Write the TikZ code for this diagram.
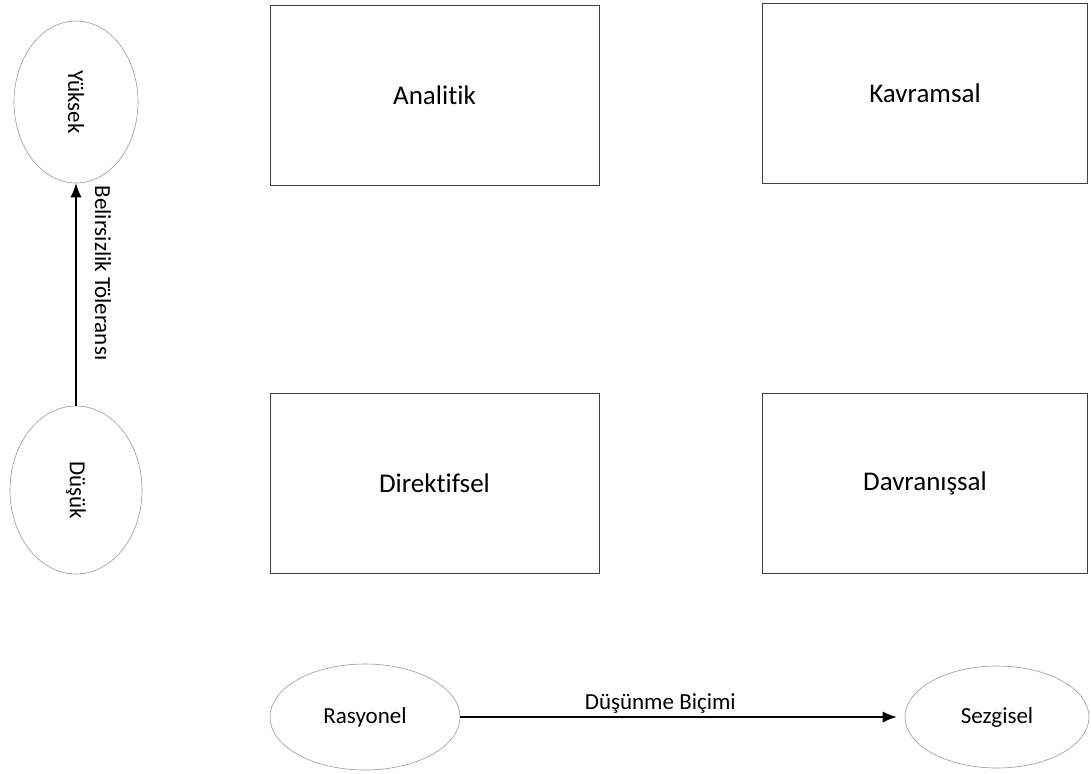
\documentclass[tikz,border=0pt]{standalone}
\usepackage{fontspec}
\setmainfont{Carlito}[Ligatures=NoCommon]
\usetikzlibrary{arrows.meta,shapes.geometric}
\begin{document}
\begin{tikzpicture}[x=1pt,y=-1pt,
  box/.style={draw=black!75, line width=0.8pt, minimum width=329pt, minimum height=180pt, inner sep=0pt, font=\fontsize{27}{30}\selectfont},
  oval/.style={draw=black!40, line width=0.6pt, ellipse, inner sep=0pt, font=\fontsize{23}{26}\selectfont},
  conn/.style={line width=1.1pt, -{Latex[length=14pt,width=11pt]}},
  lab/.style={font=\fontsize{23}{26}\selectfont, inner sep=2pt}]
\path[use as bounding box] (0,0) rectangle (1091,773);

\node[box] (ana) at (434.5,95) {Analitik};
\node[box, minimum width=325pt] (kav) at (925,93) {Kavramsal};
\node[box] (dir) at (434.5,483) {Direktifsel};
\node[box, minimum width=325pt] (dav) at (925,483) {Davranışsal};

\node[oval, minimum width=124pt, minimum height=162pt] (yuk) at (76,102) {\rotatebox{-90}{Yüksek}};
\node[oval, minimum width=132pt, minimum height=168pt] (dus) at (76,490) {\rotatebox{-90}{Düşük}};
\node[oval, minimum width=190pt, minimum height=106pt] (ras) at (365,717) {Rasyonel};
\node[oval, minimum width=184pt, minimum height=102pt] (sez) at (997,717) {Sezgisel};

\draw[conn] (dus) -- (yuk);
\node[lab, rotate=-90] (bt) at (103,273) {Belirsizlik Töleransı};

\draw[conn, shorten >=8pt] (ras) -- (sez) node[lab, pos=0.45, above, yshift=1pt] (db) {Düşünme Biçimi};
\end{tikzpicture}
\end{document}
